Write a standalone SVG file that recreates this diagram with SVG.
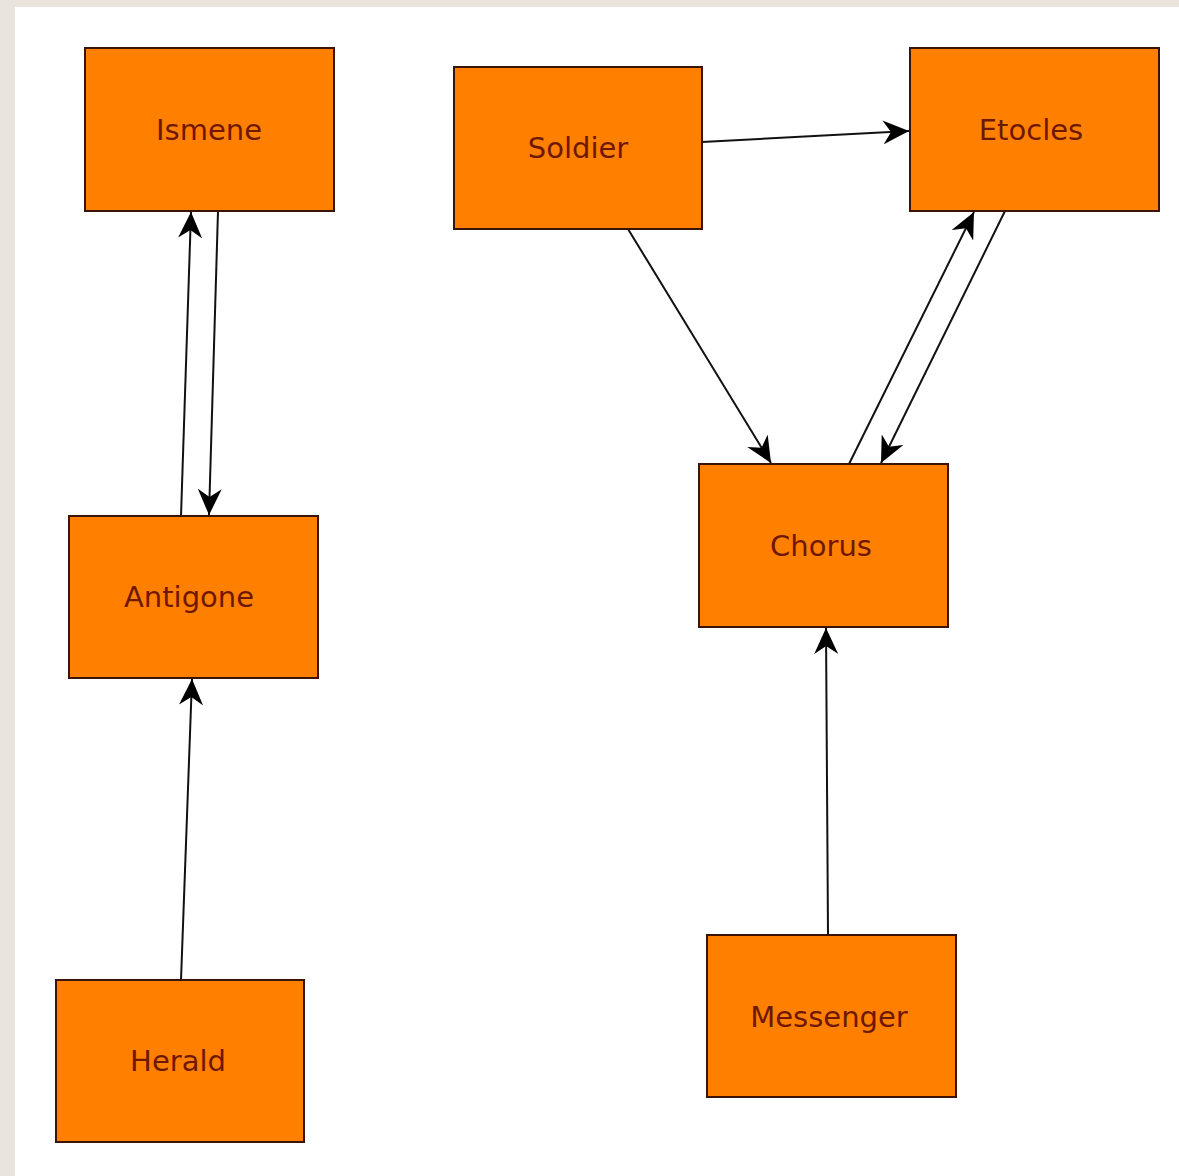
<svg xmlns="http://www.w3.org/2000/svg" width="1179" height="1176" viewBox="0 0 1179 1176">
<style>
.node rect{fill:#ff8000;stroke:#3a140a;stroke-width:2}
.node text{font-family:"DejaVu Sans",sans-serif;font-size:29px;fill:#6e1804;text-anchor:middle}
.edge{stroke:#111;stroke-width:2;fill:none;marker-end:url(#ah)}
</style>
<defs>
<marker id="ah" markerWidth="28" markerHeight="24" refX="26" refY="12" orient="auto" markerUnits="userSpaceOnUse">
<path d="M0,0 L26,12 L0,24 L8,12 Z" fill="#000"/>
</marker>
</defs>
<rect x="0" y="0" width="1179" height="1176" fill="#e9e5dc"/>
<rect x="15" y="7" width="1164" height="1169" fill="#fff"/>
<g id="connectors">
<line class="edge" x1="181" y1="516" x2="191" y2="212"/>
<line class="edge" x1="218" y1="211" x2="209" y2="515"/>
<line class="edge" x1="181" y1="980" x2="192" y2="679"/>
<line class="edge" x1="702" y1="142" x2="909" y2="131"/>
<line class="edge" x1="628" y1="229" x2="771" y2="463"/>
<line class="edge" x1="849" y1="464" x2="974" y2="212"/>
<line class="edge" x1="1005" y1="211" x2="881" y2="463"/>
<line class="edge" x1="828" y1="935" x2="826" y2="628"/>
</g>
<g id="ismene" class="node"><rect x="85" y="48" width="249" height="163"/><text x="209" y="140">Ismene</text></g>
<g id="soldier" class="node"><rect x="454" y="67" width="248" height="162"/><text x="578" y="158">Soldier</text></g>
<g id="etocles" class="node"><rect x="910" y="48" width="249" height="163"/><text x="1031" y="140">Etocles</text></g>
<g id="antigone" class="node"><rect x="69" y="516" width="249" height="162"/><text x="189" y="607">Antigone</text></g>
<g id="chorus" class="node"><rect x="699" y="464" width="249" height="163"/><text x="821" y="556">Chorus</text></g>
<g id="herald" class="node"><rect x="56" y="980" width="248" height="162"/><text x="178" y="1071">Herald</text></g>
<g id="messenger" class="node"><rect x="707" y="935" width="249" height="162"/><text x="829" y="1027">Messenger</text></g>
</svg>
